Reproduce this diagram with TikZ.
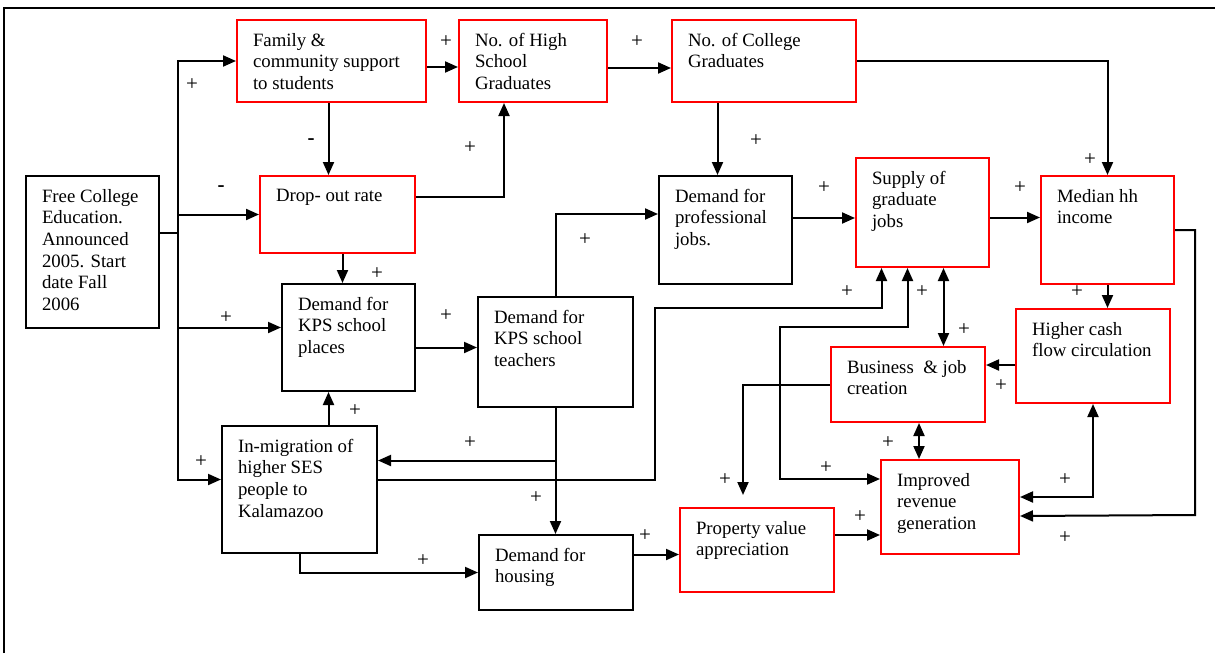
\documentclass[tikz,border=0pt]{standalone}
\usepackage{fontspec}
\setmainfont{Liberation Serif}
\usetikzlibrary{arrows.meta}
\definecolor{BoxRed}{HTML}{FF0000}
\newcommand{\boxtext}[3]{\parbox[t][#2pt][t]{#1pt}{#3}}

\begin{document}
\begin{tikzpicture}[x=1pt, y=-1pt,
    font=\fontsize{18.8pt}{21.7pt}\selectfont,
    conn/.style={line width=2pt},
    arr/.style={conn, -{Triangle[length=13pt,width=11pt]}},
    arr2/.style={conn, {Triangle[length=13pt,width=11pt]}-{Triangle[length=13pt,width=11pt]}},
    blk/.style={draw, line width=2pt, anchor=north west, inner xsep=16pt, inner ysep=13pt},
    hot/.style={blk, draw=BoxRed},
    sign/.style={inner sep=0pt, font=\fontsize{21pt}{24pt}\selectfont}]
  \useasboundingbox (0,0) rectangle (1215,653);
  % Frame
  \draw[conn] (4,653) -- (4,8) -- (1215,8);
  % Boxes
  \node[blk] (free) at (25,175) {\boxtext{101}{126}{Free College\\Education.\\Announced\\2005. Start\\date Fall\\2006}};
  \node[hot] (family) at (236,19) {\boxtext{157}{56}{Family \&\\community support\\to students}};
  \node[hot] (hsgrad) at (458,19) {\boxtext{116}{56}{No. of High\\School\\Graduates}};
  \node[hot] (colgrad) at (671,19) {\boxtext{152}{56}{No. of College\\Graduates}};
  \node[hot] (dropout) at (259,175) {\boxtext{123}{51}{Drop- out rate}};
  \node[blk] (kpsplaces) at (281,283) {\boxtext{101}{81}{Demand for\\KPS school\\places}};
  \node[blk] (kpsteach) at (477,296) {\boxtext{123}{84}{Demand for\\KPS school\\teachers}};
  \node[blk] (profjobs) at (658,175) {\boxtext{101}{82}{Demand for\\professional\\jobs.}};
  \node[hot] (gradjobs) at (855,157) {\boxtext{101}{83}{Supply of\\graduate\\jobs}};
  \node[hot] (income) at (1040,175) {\boxtext{101}{82}{Median hh\\income}};
  \node[hot] (cashflow) at (1015,308) {\boxtext{122}{68}{Higher cash\\flow circulation}};
  \node[hot] (business) at (830,346) {\boxtext{122}{49}{Business\ \ \& job\\creation}};
  \node[hot] (revenue) at (880,459) {\boxtext{106}{68}{Improved\\revenue\\generation}};
  \node[hot] (property) at (679,507) {\boxtext{122}{58}{Property value\\appreciation}};
  \node[blk] (migration) at (221,425) {\boxtext{123}{101}{In-migration of\\higher SES\\people to\\Kalamazoo}};
  \node[blk] (housing) at (478,534) {\boxtext{122}{49}{Demand for\\housing}};
  % Links
  \draw[conn] ([yshift=19pt]free.east) -- ++(18,0) coordinate (bus);
  \draw[arr] (bus) |- (family.west);
  \draw[arr] (bus) |- (dropout.west);
  \draw[arr] (bus) |- ([yshift=10pt]kpsplaces.west);
  \draw[arr] (bus) |- ([yshift=10pt]migration.west);
  \draw[arr] ([xshift=-3pt]family.south) -- ([xshift=-3pt]family.south |- dropout.north);
  \draw[arr] ([yshift=-6pt]family.east) -- ([yshift=-6pt]family.east -| hsgrad.west);
  \draw[arr] ([yshift=-7pt]hsgrad.east) -- ([yshift=-7pt]hsgrad.east -| colgrad.west);
  \draw[arr] ([yshift=18pt]dropout.east) -| ([xshift=-29pt]hsgrad.south);
  \draw[arr] ([xshift=-8pt]profjobs.north |- colgrad.south) -- ([xshift=-8pt]profjobs.north);
  \draw[arr] (colgrad.east) -| (income.north);
  \draw[arr] ([xshift=5pt]dropout.south) -- ([xshift=5pt]dropout.south |- kpsplaces.north);
  \draw[arr] ([yshift=-10pt]kpsplaces.east) -- ([yshift=-10pt]kpsplaces.east -| kpsteach.west);
  \draw[arr] (kpsteach.north) |- ([yshift=16pt]profjobs.west);
  \draw[arr] ([yshift=12pt]profjobs.east) -- ([yshift=12pt]profjobs.east -| gradjobs.west);
  \draw[arr] ([yshift=-5pt]gradjobs.east) -- ([yshift=-5pt]gradjobs.east -| income.west);
  \draw[arr] (income.south) -- (income.south |- cashflow.north);
  \draw[arr] (income.east) -| (1195,515) -- ([yshift=-9pt]revenue.east);
  \draw[arr] ([yshift=-9pt]cashflow.west) -- ([yshift=-9pt]cashflow.west -| business.east);
  \draw[arr2] ([yshift=10pt]revenue.east) -| (cashflow.south);
  \draw[arr2] ([xshift=11pt]business.south) -- ([xshift=11pt]business.south |- revenue.north);
  \draw[arr2] ([xshift=21pt]gradjobs.south) -- ([xshift=21pt]gradjobs.south |- business.north);
  \draw[arr] ([yshift=10pt]migration.east) -| (655,308) -| ([xshift=-41pt]gradjobs.south);
  \draw[arr2] ([xshift=-15pt]gradjobs.south) |- (780,327) |- ([yshift=28pt]revenue.west);
  \draw[arr] (business.west) -| ([xshift=-14pt,yshift=12pt]property.north);
  \draw[arr] (kpsteach.south) -- (kpsteach.south |- housing.north);
  \draw[arr] ([yshift=29pt]migration.east -| kpsteach.south) -- ([yshift=29pt]migration.east);
  \draw[arr] ([xshift=-20pt]kpsplaces.south |- migration.north) -- ([xshift=-20pt]kpsplaces.south);
  \draw[arr] (migration.south) |- (housing.west);
  \draw[arr] ([yshift=18pt]housing.east) -- ([yshift=18pt]housing.east -| property.west);
  \draw[arr] ([yshift=15pt]property.east) -- ([yshift=15pt]property.east -| revenue.west);
  % Signs
  \foreach \x/\y [count=\i] in {192/85, 446/42, 637/42, 470/148, 756/141, 1090/160,
      377/274, 226/318, 446/316, 585/240, 824/188, 1020/188, 1077/292, 847/292,
      922/292, 964/330, 1001/386, 355/411, 201/462, 470/443, 888/443, 725/480,
      826/468, 1065/480, 536/498, 860/517, 645/536, 1065/538, 423/561}
    \node[sign] (plus\i) at (\x,\y) {+};
  \node[sign] (minus1) at (221,189) {\textbf{-}};
  \node[sign] (minus2) at (311,142) {\textbf{-}};
\end{tikzpicture}
\end{document}
